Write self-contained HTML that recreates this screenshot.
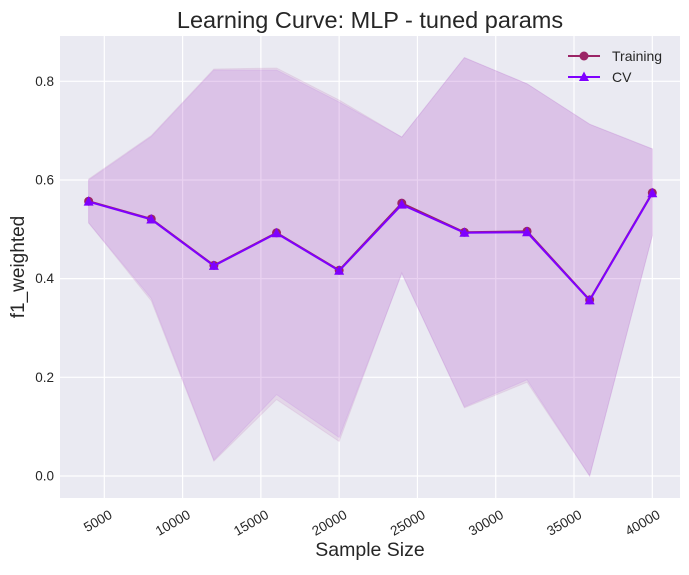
<!DOCTYPE html>
<html><head><meta charset="utf-8"><style>
body{margin:0;background:#fff;}
text{font-family:"Liberation Sans",sans-serif;fill:#262626;}
</style></head><body>
<svg id="chart" width="689" height="570" xmlns="http://www.w3.org/2000/svg">
<rect x="60" y="36" width="620" height="462" fill="#eaeaf2"/>
<g id="grid"></g>
<g id="bands"></g>
<g id="lines"></g>
<g id="axes"></g>
<text x="370" y="28" font-size="23.5" text-anchor="middle">Learning Curve: MLP - tuned params</text>
<text x="370" y="556" font-size="19.5" text-anchor="middle">Sample Size</text>
<text transform="translate(24,267) rotate(-90)" font-size="19" text-anchor="middle">f1_weighted</text>
<g>
<line x1="568" y1="56" x2="600" y2="56" stroke="#9b2466" stroke-width="2"/>
<circle cx="584" cy="56" r="4.5" fill="#9b2466"/>
<text x="612" y="61" font-size="14">Training</text>
<line x1="568" y1="77" x2="600" y2="77" stroke="#7f00ff" stroke-width="2"/>
<polygon points="584,71.5 589,81 579,81" fill="#7f00ff"/>
<text x="612" y="82" font-size="14">CV</text>
</g>
</svg>
<script>
const sizes=[4000,8000,12000,16000,20000,24000,28000,32000,36000,40000];
const trainMean=[0.557,0.521,0.427,0.493,0.417,0.553,0.494,0.496,0.357,0.574];
const cvMean=[0.556,0.520,0.426,0.492,0.416,0.550,0.493,0.494,0.356,0.573];
const trainUpper=[0.602,0.690,0.825,0.827,0.762,0.687,0.848,0.795,0.713,0.663];
const trainLower=[0.513,0.355,0.030,0.155,0.070,0.412,0.138,0.190,0.000,0.487];
const cvUpper=[0.600,0.688,0.823,0.823,0.758,0.687,0.848,0.795,0.713,0.663];
const cvLower=[0.513,0.360,0.032,0.165,0.078,0.410,0.140,0.195,0.000,0.487];
const xTicks=[5000,10000,15000,20000,25000,30000,35000,40000];
const yTicks=[0.0,0.2,0.4,0.6,0.8];
const yTickLabels=["0.0","0.2","0.4","0.6","0.8"];
const NS="http://www.w3.org/2000/svg";
function X(v){return 104.3+(v-5000)*(548/35000);}
function Y(v){return 476-v*(394.7/0.8);}
function el(tag,attrs,parent){const e=document.createElementNS(NS,tag);for(const k in attrs)e.setAttribute(k,attrs[k]);parent.appendChild(e);return e;}
const grid=document.getElementById('grid'),axes=document.getElementById('axes'),bands=document.getElementById('bands'),lines=document.getElementById('lines');
xTicks.forEach(t=>{
 const l=el('line',{x1:X(t),x2:X(t),y1:36,y2:498,stroke:'#fff','stroke-width':1.2},grid);
 
 
 const tx=el('text',{x:X(t)+4,y:509,'font-size':13.5,'text-anchor':'end','dominant-baseline':'hanging',transform:`rotate(-30 ${X(t)+4} 509)`},axes);
 tx.textContent=t;
 
 
});
yTicks.forEach((t,i)=>{
 const l=el('line',{x1:60,x2:680,y1:Y(t),y2:Y(t),stroke:'#fff','stroke-width':1.2},grid);
 
 
 const tx=el('text',{x:54,y:Y(t)+4.5,'font-size':13.5,'text-anchor':'end'},axes);
 tx.textContent=yTickLabels[i];
 
 
});
function band(up,lo,color,name){
 let pts=sizes.map((s,i)=>X(s)+','+Y(up[i]));
 pts=pts.concat(sizes.map((s,i)=>X(s)+','+Y(lo[i])).reverse());
 const p=el('polygon',{points:pts.join(' '),fill:color,'fill-opacity':0.14,stroke:color,'stroke-opacity':0.12},bands);
 
 
}
band(trainUpper,trainLower,'#b55fb0','training-band');
band(cvUpper,cvLower,'#a94fe0','cv-band');
function line(vals,color,name,marker){
 const p=el('polyline',{points:sizes.map((s,i)=>X(s)+','+Y(vals[i])).join(' '),fill:'none',stroke:color,'stroke-width':2},lines);
 
 
 sizes.forEach((s,i)=>{
  const x=X(s),y=Y(vals[i]);
  let m;
  if(marker==='circle')m=el('circle',{cx:x,cy:y,r:4.5,fill:color},lines);
  else m=el('polygon',{points:`${x},${y-5.5} ${x+5},${y+4} ${x-5},${y+4}`,fill:color},lines);
  
  
 });
}
line(trainMean,'#9b2466','training-line','circle');
line(cvMean,'#7f00ff','cv-line','tri');
</script>
</body></html>
